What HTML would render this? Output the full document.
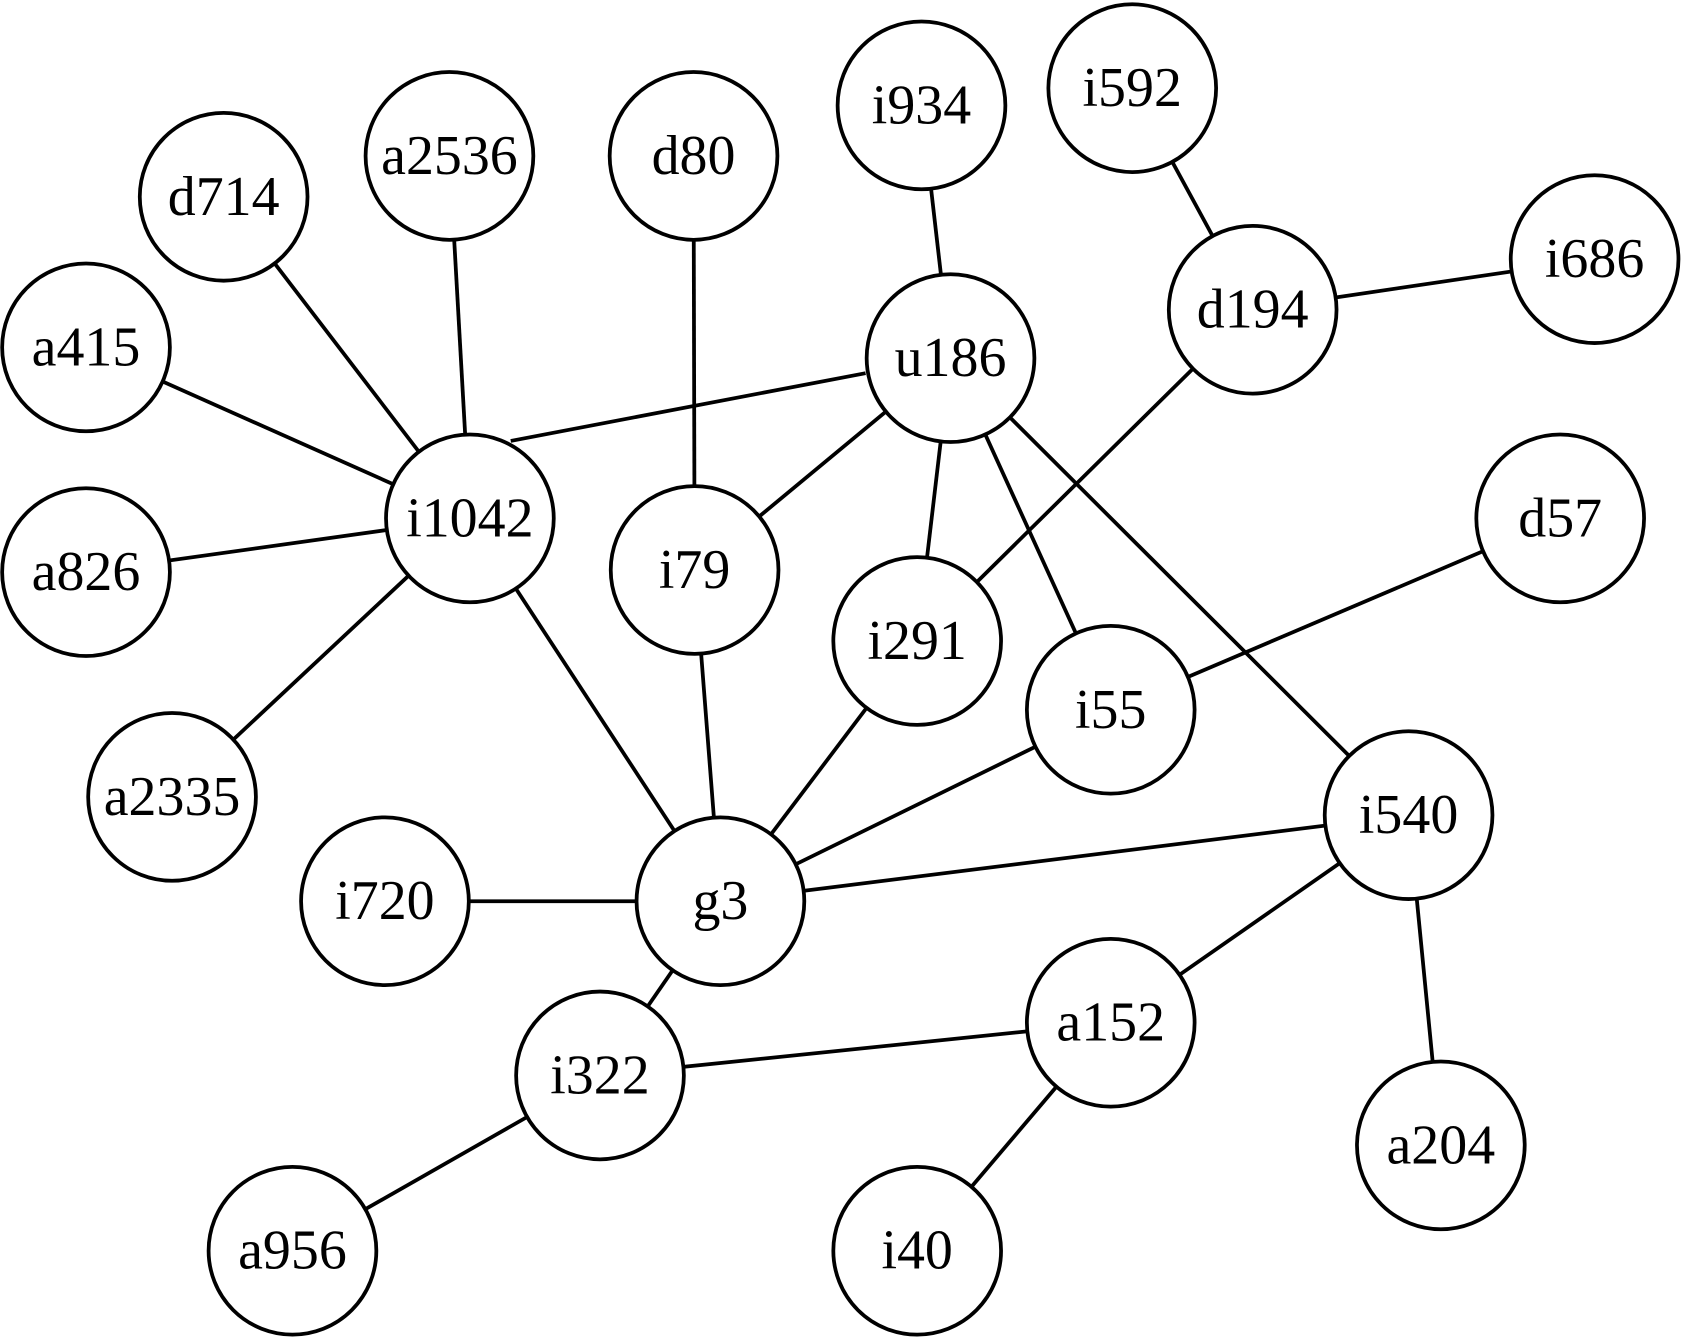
<!DOCTYPE html>
<html><head><meta charset="utf-8"><style>
html,body{margin:0;padding:0;background:#fff;}
svg{display:block;}
text{font-family:"Liberation Serif",serif;font-size:52px;fill:#000;}
</style></head><body>
<svg width="1686" height="1340" viewBox="0 0 1568 1246" preserveAspectRatio="none" xmlns="http://www.w3.org/2000/svg">
<g stroke="#000" stroke-width="3.5">
<line x1="208" y1="183" x2="437" y2="482"/>
<line x1="418" y1="145" x2="437" y2="482"/>
<line x1="80" y1="323" x2="437" y2="482"/>
<line x1="80" y1="532" x2="437" y2="482"/>
<line x1="160" y1="741" x2="437" y2="482"/>
<line x1="475" y1="410" x2="805" y2="347"/>
<line x1="437" y1="482" x2="670" y2="838"/>
<line x1="645" y1="145" x2="646" y2="530"/>
<line x1="857" y1="98" x2="884" y2="333"/>
<line x1="884" y1="333" x2="646" y2="530"/>
<line x1="884" y1="333" x2="853" y2="596"/>
<line x1="884" y1="333" x2="1033" y2="660"/>
<line x1="884" y1="333" x2="1310" y2="758"/>
<line x1="1053" y1="82" x2="1165" y2="288"/>
<line x1="1165" y1="288" x2="1483" y2="241"/>
<line x1="1165" y1="288" x2="853" y2="596"/>
<line x1="1451" y1="482" x2="1033" y2="660"/>
<line x1="646" y1="530" x2="670" y2="838"/>
<line x1="853" y1="596" x2="670" y2="838"/>
<line x1="1033" y1="660" x2="670" y2="838"/>
<line x1="1310" y1="758" x2="670" y2="838"/>
<line x1="358" y1="838" x2="670" y2="838"/>
<line x1="670" y1="838" x2="558" y2="1000"/>
<line x1="558" y1="1000" x2="1033" y2="951"/>
<line x1="1033" y1="951" x2="1310" y2="758"/>
<line x1="1310" y1="758" x2="1340" y2="1065"/>
<line x1="558" y1="1000" x2="272" y2="1163"/>
<line x1="1033" y1="951" x2="853" y2="1163"/>
</g>
<g stroke="#000" stroke-width="3.5" fill="#fff">
<circle cx="208" cy="183" r="78"/><circle cx="418" cy="145" r="78"/><circle cx="645" cy="145" r="78"/>
<circle cx="857" cy="98" r="78"/><circle cx="1053" cy="82" r="78"/><circle cx="80" cy="323" r="78"/>
<circle cx="884" cy="333" r="78"/><circle cx="1165" cy="288" r="78"/><circle cx="1483" cy="241" r="78"/>
<circle cx="437" cy="482" r="78"/><circle cx="80" cy="532" r="78"/><circle cx="646" cy="530" r="78"/>
<circle cx="853" cy="596" r="78"/><circle cx="1451" cy="482" r="78"/><circle cx="1033" cy="660" r="78"/>
<circle cx="160" cy="741" r="78"/><circle cx="1310" cy="758" r="78"/><circle cx="358" cy="838" r="78"/>
<circle cx="670" cy="838" r="78"/><circle cx="1033" cy="951" r="78"/><circle cx="558" cy="1000" r="78"/>
<circle cx="1340" cy="1065" r="78"/><circle cx="272" cy="1163" r="78"/><circle cx="853" cy="1163" r="78"/>
</g>
<g text-anchor="middle" dominant-baseline="central">
<text x="208" y="183">d714</text><text x="418" y="145">a2536</text><text x="645" y="145">d80</text>
<text x="857" y="98">i934</text><text x="1053" y="82">i592</text><text x="80" y="323">a415</text>
<text x="884" y="333">u186</text><text x="1165" y="288">d194</text><text x="1483" y="241">i686</text>
<text x="437" y="482">i1042</text><text x="80" y="532">a826</text><text x="646" y="530">i79</text>
<text x="853" y="596">i291</text><text x="1451" y="482">d57</text><text x="1033" y="660">i55</text>
<text x="160" y="741">a2335</text><text x="1310" y="758">i540</text><text x="358" y="838">i720</text>
<text x="670" y="838">g3</text><text x="1033" y="951">a152</text><text x="558" y="1000">i322</text>
<text x="1340" y="1065">a204</text><text x="272" y="1163">a956</text><text x="853" y="1163">i40</text>
</g>
</svg>
</body></html>
